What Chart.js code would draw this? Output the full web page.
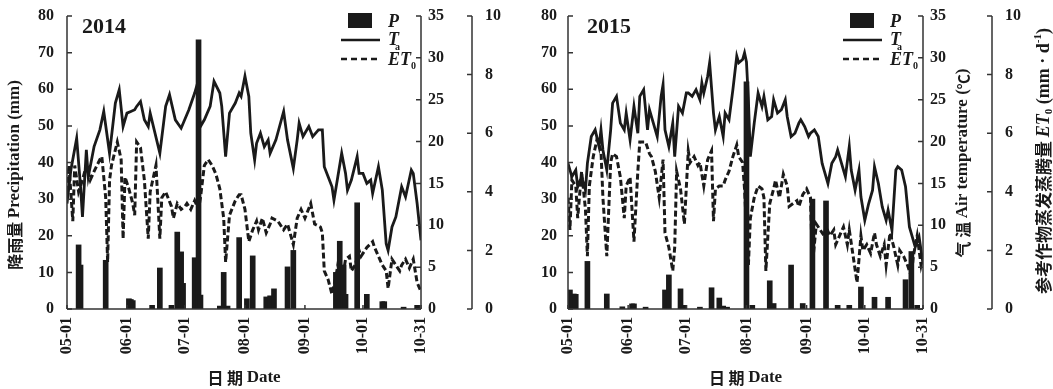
<!DOCTYPE html>
<html>
<head>
<meta charset="utf-8">
<script src="https://cdn.jsdelivr.net/npm/chart.js@4.4.1/dist/chart.umd.min.js"></script>
<style>
html,body{margin:0;padding:0;background:#fff;}
#wrap{position:relative;width:1053px;height:389px;overflow:hidden;}
.box{position:absolute;top:0;height:389px;}
</style>
</head>
<body>
<div id="wrap">
<div class="box" style="left:0;width:520px"><canvas id="c2014" width="520" height="389"></canvas></div>
<div class="box" style="left:520px;width:533px"><canvas id="c2015" width="533" height="389"></canvas></div>
</div>
<script>
// ==============================
// DATA  (day 0 = 05-01, day 183 = 10-31)
// ==============================

const dateTickDays = [0, 31, 61, 92, 123, 153, 183];
const dateTickLabels = ["05-01", "06-01", "07-01", "08-01", "09-01", "10-01", "10-31"];

// ---- 2014 ----
const tDays2014 = [0,2,5,7,8,10,11,14,17,19,22,25,27,29,31,33,35,36,38,40,42,43,48,51,53,56,59,63,66,67,69,71,74,76,79,80,82,84,87,89,
  90,92,94,95,97,98,100,102,104,105,108,112,114,117,119,120,122,125,127,130,132,133,135,137,138,140,142,144,145,147,150,151,153,155,157,158,161,163,165,166,168,170,172,173,175,178,179,181,183];
const tVals2014 = [12.6,16.6,20.4,14.6,11.0,19.0,15.8,19.4,21.4,23.6,18.6,24.6,26.2,21.8,23.4,23.6,23.8,24.2,24.8,22.6,21.8,23.4,18.6,24.2,25.6,22.6,21.6,23.8,25.8,26.6,21.8,22.6,24.2,27.2,25.8,24.2,18.2,23.4,24.6,25.8,
  25.4,27.8,25.4,21.0,17.8,19.8,21.0,19.4,20.2,18.6,20.2,23.6,20.2,16.8,20.2,22.2,20.6,21.8,20.6,21.4,21.4,17.0,15.8,14.6,13.0,15.8,18.6,16.2,14.2,15.4,18.2,16.2,16.2,15.0,15.4,13.8,17.0,14.2,7.8,7.0,9.8,11.0,13.4,14.6,13.4,16.6,16.2,12.6,8.2];

const eDays2014 = [0,1,3,4,6,8,10,12,14,17,18,20,21,22,23,26,28,29,30,32,34,35,36,38,40,42,43,46,48,49,51,54,55,57,59,61,62,64,66,68,69,71,73,75,77,79,81,82,84,87,89,
  90,92,94,96,98,99,101,103,105,106,109,112,114,117,119,121,123,126,128,131,132,133,135,137,139,140,142,144,146,147,149,151,152,155,158,159,161,163,165,166,168,170,172,173,175,177,179,181,183];
const eVals2014 = [4.0,4.9,3.0,4.9,4.0,4.4,4.9,4.4,4.7,5.1,5.2,3.8,1.6,4.4,4.9,5.7,5.1,2.4,4.5,4.1,3.6,3.2,5.7,5.5,4.4,2.4,4.0,4.9,2.4,3.8,4.0,3.5,3.1,3.6,3.4,3.5,3.6,3.4,3.7,3.4,3.8,4.9,5.1,4.9,4.6,4.1,3.1,1.6,3.2,3.7,3.9,
  3.9,3.4,2.3,2.7,3.0,2.7,3.1,2.6,2.9,3.1,3.0,2.7,2.9,2.2,3.1,3.4,3.1,3.6,2.9,2.8,2.6,1.3,1.0,0.5,1.1,1.5,0.9,1.7,1.8,1.3,1.5,2.0,1.8,2.1,2.3,2.1,1.8,1.5,1.3,0.7,1.7,1.5,1.3,1.5,1.7,1.4,1.7,0.9,0.6];

const pDays2014 = [6,7,20,32,33,34,44,48,54,57,59,60,66,68,69,79,81,83,89,93,96,103,105,107,114,117,139,141,143,144,150,155,163,164,174,181];
const pVals2014 = [17.5,12,13.3,2.8,2.6,2.3,1,11.2,1,21,15.6,7,14,73.5,3.8,0.8,10,0.8,19.5,2.8,14.5,3.3,3.6,5.5,11.5,16,10,18.5,12,4,29,4,2,2,0.5,1];

// ---- 2015 ----
const tDays2015 = [0,2,4,5,7,9,10,12,14,16,17,18,20,22,23,25,27,29,30,32,34,36,37,39,41,42,44,46,48,49,50,52,54,55,57,59,61,62,64,66,68,69,70,72,73,75,76,78,80,81,83,85,87,88,90,91,92,93,94,
  96,98,100,101,103,105,106,108,110,112,113,115,117,119,120,122,124,125,127,129,131,132,134,136,138,139,141,143,145,146,148,150,151,153,155,157,158,160,162,164,165,167,169,170,172,174,176,177,179,181,183];
const tVals2015 = [17.4,15.8,16.6,14.6,15.8,14.2,17.4,20.6,21.4,19.4,21.4,19.0,16.6,21.4,24.6,25.4,22.2,21.4,23.4,20.2,24.2,21.0,25.4,26.2,21.4,23.8,22.2,20.6,25.4,26.8,21.4,19.4,22.2,18.2,24.2,23.4,25.8,25.8,25.4,26.2,25.0,27.0,25.8,27.8,29.4,23.4,21.4,23.0,20.6,23.4,22.6,26.2,30.2,29.4,29.8,30.6,29.5,25.0,18.2,
  22.2,25.8,24.2,25.4,22.6,23.0,25.0,23.4,23.8,25.0,23.0,20.6,21.0,22.2,22.6,21.8,20.6,21.0,21.4,20.6,17.4,16.6,15.0,17.4,18.2,19.0,17.4,15.8,19.4,16.6,14.2,16.6,13.4,10.6,12.6,14.2,17.0,15.0,12.2,10.6,11.8,9.4,16.6,17.0,16.6,14.6,9.8,9.0,7.4,8.6,5.4];

const eDays2015 = [0,1,2,4,5,7,9,10,11,13,15,17,18,20,22,23,25,27,29,30,32,34,36,37,40,42,43,45,47,49,50,52,54,55,56,58,60,62,63,65,67,68,70,72,74,75,76,78,80,81,83,85,87,88,90,91,93,94,
  96,98,100,101,102,104,106,107,109,111,113,114,116,118,119,121,123,125,126,128,130,132,133,135,137,138,140,142,144,145,147,149,151,152,154,156,158,159,161,163,164,166,168,170,171,173,175,177,178,180,182,183];
const eVals2015 = [3.8,2.7,4.4,4.2,3.1,4.7,3.4,1.8,4.2,5.2,5.8,5.4,3.8,1.8,5.0,5.3,5.2,4.5,3.1,4.2,4.5,2.3,4.7,5.7,5.7,5.3,5.2,4.7,3.8,5.1,2.6,2.1,1.3,2.1,4.7,4.1,2.9,5.4,5.0,5.2,4.9,5.0,4.2,5.1,5.4,3.0,4.1,4.2,4.2,4.4,4.7,5.2,5.6,5.2,5.0,4.1,1.5,3.1,
  3.8,4.2,4.1,3.8,1.3,3.6,4.1,4.4,3.8,4.6,4.2,3.5,3.6,3.7,3.5,3.9,4.1,3.8,1.5,2.9,2.7,2.5,2.8,2.5,2.7,2.2,2.5,2.8,2.2,2.7,1.8,0.9,2.5,2.0,2.2,1.9,2.6,2.2,1.8,2.2,1.5,2.6,2.1,1.5,2.0,1.8,1.5,1.1,1.8,2.5,1.5,1.8];

const pDays2015 = [1,3,4,10,20,28,33,34,40,50,52,58,60,68,74,78,80,82,92,95,104,106,115,121,126,133,139,145,151,158,165,174,177,180];
const pVals2015 = [5.2,4.1,4.0,13,4.1,0.6,1.4,1.4,0.5,5.2,9.3,5.5,1,0.5,5.8,3,0.8,0.5,62,1,7.7,1.5,12,1.5,30,29.5,1,1,6,3.2,3.2,8,15.7,1];

// ==============================
// STYLE
// ==============================

const ink = "#1a1a1a";
const axisInk = "#333";
const SERIF = '"Liberation Serif", "Times New Roman", serif';
const CJK = '"Noto Sans CJK SC", sans-serif';
const fB = (px) => "bold " + px + "px " + SERIF;
const fBI = (px) => "italic bold " + px + "px " + SERIF;
const fC = (px) => "bold " + px + "px " + CJK;

function toPoints(days, vals){
    return days.map((d, i) => ({x: d, y: vals[i]}));
}

// mixed font text, centred on (x,y)
function drawRuns(ctx, runs, x, y, angle){
    ctx.save();
    ctx.translate(x, y);
    ctx.rotate(angle);
    ctx.textBaseline = "middle";
    ctx.textAlign = "left";
    let total = 0;
    runs.forEach(r => { ctx.font = r[1]; total += ctx.measureText(r[0]).width; });
    let cx = -total / 2;
    runs.forEach(r => {
        ctx.font = r[1];
        ctx.fillText(r[0], cx, r[2] || 0);
        cx += ctx.measureText(r[0]).width;
    });
    ctx.restore();
}

// ==============================
// AXES, TITLES, LEGEND
// ==============================

const framePlugin = {
    id: "frame",
    afterDraw(chart, args, opts){
        const ctx = chart.ctx;
        const ca = chart.chartArea;
        const s = chart.scales;

        ctx.save();
        ctx.strokeStyle = axisInk;
        ctx.lineWidth = 1.5;

        // y axes with inward ticks
        [["yP", 1], ["yT", -1], ["yE", -1]].forEach(([id, dir]) => {
            const sc = s[id];
            const x0 = dir > 0 ? sc.right : sc.left;
            ctx.beginPath();
            ctx.moveTo(x0, sc.getPixelForValue(sc.max));
            ctx.lineTo(x0, sc.getPixelForValue(sc.min));
            sc.ticks.forEach(t => {
                const y = sc.getPixelForValue(t.value);
                ctx.moveTo(x0, y);
                ctx.lineTo(x0 + dir * 5, y);
            });
            ctx.stroke();
        });

        // x axis
        const sx = s.x;
        ctx.beginPath();
        ctx.moveTo(ca.left, ca.bottom);
        ctx.lineTo(ca.right, ca.bottom);
        sx.ticks.forEach(t => {
            const x = sx.getPixelForValue(t.value);
            ctx.moveTo(x, ca.bottom);
            ctx.lineTo(x, ca.bottom - 4);
        });
        ctx.stroke();

        ctx.fillStyle = ink;

        // year
        ctx.font = fB(22);
        ctx.textBaseline = "alphabetic";
        ctx.textAlign = "left";
        ctx.fillText(opts.year, ca.left + opts.yearDx, 33);

        // x title
        drawRuns(ctx, [["日 期 ", fC(16)], ["Date", fB(17)]], (ca.left + ca.right) / 2, 378, 0);

        if(opts.leftTitle){
            drawRuns(ctx, [["降雨量 ", fC(16)], ["Precipitation (mm)", fB(17)]],
                s.yP.left + 15, 175, -Math.PI / 2);
        }

        if(opts.rightTitles){
            drawRuns(ctx, [["气 温 ", fC(16)], ["Air temperature (", fB(17)], ["℃", fC(15)], [")", fB(17)]],
                s.yT.left + 40, 163, -Math.PI / 2);
            drawRuns(ctx, [["参考作物蒸发蒸腾量 ", fC(17)], ["ET", fBI(18)], ["0", fB(11), 5],
                [" (mm · d", fB(18)], ["-1", fB(11), -6], [")", fB(18)]],
                s.yE.left + 52, 161, -Math.PI / 2);
        }

        // legend
        const R = ca.right;
        ctx.fillRect(R - 73, 13, 24, 15);

        ctx.strokeStyle = ink;
        ctx.lineWidth = 2.5;
        ctx.beginPath();
        ctx.moveTo(R - 80, 40);
        ctx.lineTo(R - 41, 40);
        ctx.stroke();

        ctx.setLineDash([6, 4]);
        ctx.beginPath();
        ctx.moveTo(R - 80, 59);
        ctx.lineTo(R - 41, 59);
        ctx.stroke();
        ctx.setLineDash([]);

        ctx.textAlign = "left";
        ctx.textBaseline = "alphabetic";
        ctx.font = fBI(18);
        ctx.fillText("P", R - 33, 27);
        ctx.fillText("T", R - 33, 45);
        ctx.font = fB(10);
        ctx.fillText("a", R - 26, 50);
        ctx.font = fBI(18);
        ctx.fillText("ET", R - 33, 65);
        const w = ctx.measureText("ET").width;
        ctx.font = fB(10);
        ctx.fillText("0", R - 33 + w, 69);

        ctx.restore();
    }
};

// ==============================
// CHART FACTORY
// ==============================

function fitY(width){
    return sc => {
        sc.width = width;
        sc.paddingTop = 0;
        sc.paddingBottom = 0;
    };
}

function makeChart(canvasId, d){

    const tickFont = {family: SERIF, size: 16, weight: "bold"};

    return new Chart(document.getElementById(canvasId), {

        type: "bar",

        data: {
            datasets: [
                {
                    type: "bar",
                    label: "P",
                    data: toPoints(d.pDays, d.pVals),
                    backgroundColor: ink,
                    barThickness: 5,
                    yAxisID: "yP"
                },
                {
                    type: "line",
                    label: "Ta",
                    data: toPoints(d.tDays, d.tVals),
                    borderColor: ink,
                    borderWidth: 2.8,
                    pointRadius: 0,
                    tension: 0,
                    fill: false,
                    yAxisID: "yT"
                },
                {
                    type: "line",
                    label: "ET0",
                    data: toPoints(d.eDays, d.eVals),
                    borderColor: ink,
                    borderWidth: 3,
                    borderDash: [6, 3],
                    pointRadius: 0,
                    tension: 0,
                    fill: false,
                    yAxisID: "yE"
                }
            ]
        },

        options: {
            responsive: false,
            animation: false,
            events: [],
            devicePixelRatio: 1,
            layout: {padding: {top: 16, left: 0, right: 0, bottom: 0}},
            plugins: {
                legend: {display: false},
                tooltip: {enabled: false},
                frame: d.frame
            },
            scales: {
                x: {
                    type: "linear",
                    position: "bottom",
                    min: 0,
                    max: 183,
                    offset: false,
                    grid: {display: false, drawTicks: false, offset: false},
                    border: {display: false},
                    afterBuildTicks: sc => { sc.ticks = dateTickDays.map(v => ({value: v})); },
                    afterFit: sc => { sc.height = 80; sc.paddingLeft = 0; sc.paddingRight = 0; },
                    ticks: {
                        autoSkip: false,
                        minRotation: 90,
                        maxRotation: 90,
                        padding: 8,
                        color: ink,
                        font: tickFont,
                        callback: v => dateTickLabels[dateTickDays.indexOf(v)]
                    }
                },
                yP: {
                    position: "left",
                    min: 0,
                    max: 80,
                    grid: {display: false, drawTicks: false},
                    border: {display: false},
                    afterFit: fitY(d.wP),
                    ticks: {stepSize: 10, padding: d.padP, color: ink, font: tickFont}
                },
                yT: {
                    position: "right",
                    min: 0,
                    max: 35,
                    grid: {display: false, drawTicks: false},
                    border: {display: false},
                    afterFit: fitY(d.wT),
                    ticks: {stepSize: 5, padding: 7, color: ink, font: tickFont}
                },
                yE: {
                    position: "right",
                    min: 0,
                    max: 10,
                    grid: {display: false, drawTicks: false},
                    border: {display: false},
                    afterFit: fitY(d.wE),
                    ticks: {stepSize: 2, padding: 13, color: ink, font: tickFont}
                }
            }
        },

        plugins: [framePlugin]
    });
}

makeChart("c2014", {
    tDays: tDays2014, tVals: tVals2014,
    eDays: eDays2014, eVals: eVals2014,
    pDays: pDays2014, pVals: pVals2014,
    wP: 67, wT: 51, wE: 48, padP: 13,
    frame: {year: "2014", yearDx: 15, leftTitle: true, rightTitles: false}
});

makeChart("c2015", {
    tDays: tDays2015, tVals: tVals2015,
    eDays: eDays2015, eVals: eVals2015,
    pDays: pDays2015, pVals: pVals2015,
    wP: 48, wT: 69, wE: 61, padP: 11,
    frame: {year: "2015", yearDx: 19, leftTitle: false, rightTitles: true}
});
</script>
</body>
</html>
